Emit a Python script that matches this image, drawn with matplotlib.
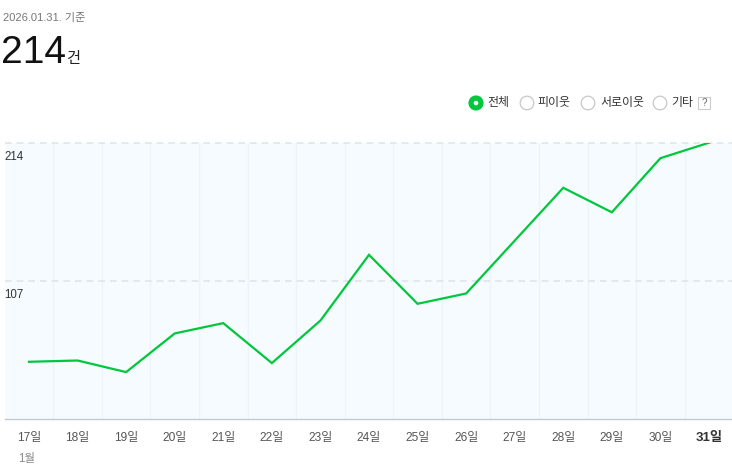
import matplotlib
matplotlib.use("Agg")
from matplotlib import pyplot as plt
from matplotlib.patches import Circle, Rectangle

plt.rcParams['font.family'] = ['Liberation Sans', 'Noto Sans CJK KR', 'DejaVu Sans']

# data
days = ["17일", "18일", "19일", "20일", "21일", "22일", "23일", "24일",
        "25일", "26일", "27일", "28일", "29일", "30일", "31일"]
counts = [44, 45, 36, 66, 74, 43, 76, 127, 89, 97, 138, 179, 160, 202, 214]
y_ticks = [107, 214]
legend_items = ["전체", "피이웃", "서로이웃", "기타"]
base_date = "2026.01.31. 기준"
total = "214"

W, H = 732, 470
fig = plt.figure(figsize=(W / 100, H / 100), dpi=100)

# main chart area
left, right, top, bottom = 4.7, 733.3, 142.7, 418.5
ax = fig.add_axes([left / W, (H - bottom) / H, (right - left) / W, (bottom - top) / H])
ax.set_facecolor("#f5fbff")
ax.set_xlim(-0.5, len(days) - 0.5)
ax.set_ylim(0, 214)

for i in range(len(days) - 1):
    ax.axvline(i + 0.5, color="#ebf4fc", lw=1, zorder=1)
for v in y_ticks:
    ax.axhline(v, color="#e1e5ea", lw=1.2, ls=(0, (4, 3)), zorder=2, clip_on=False)

ax.plot(range(len(days)), counts, color="#00c73c", lw=1.6, zorder=3,
        solid_joinstyle="miter")

for s in ["top", "left", "right"]:
    ax.spines[s].set_visible(False)
ax.spines["bottom"].set_color("#c5c9ce")
ax.spines["bottom"].set_linewidth(1)
ax.set_xticks([])
ax.set_yticks([])

# overlay in pixel coordinates for header / legend / labels
ov = fig.add_axes([0, 0, 1, 1])
ov.set_zorder(5)
ov.patch.set_alpha(0)
ov.set_xlim(0, W)
ov.set_ylim(H, 0)
ov.axis("off")

# y labels inside plot
for v in y_ticks:
    ov.text(4, bottom - (bottom - top) * v / 214 + 14.5, str(v), fontsize=8.3,
            color="#333333", va="center", ha="left")

# x labels
for i, d in enumerate(days):
    xp = left + (i + 0.5) * (right - left) / len(days)
    last = i == len(days) - 1
    ov.text(xp, 438, d, fontsize=9.5 if last else 8.6, ha="center", va="center",
            color="#333333" if last else "#555555",
            fontweight="bold" if last else "normal")
ov.text(18, 459, "1월", fontsize=8.3, color="#888888", ha="left", va="center")

# header
ov.text(3, 18, base_date, fontsize=8, color="#777777", ha="left", va="center")
ov.text(1, 63, total, fontsize=28, color="#111111", ha="left", va="baseline")
ov.text(66, 63, "건", fontsize=11, color="#222222", ha="left", va="baseline")

# legend (radio buttons)
cx = [476, 527, 588, 660]
tx = [487, 537, 600, 671]
ly = 103
for i, (c, t, lab) in enumerate(zip(cx, tx, legend_items)):
    if i == 0:
        ov.add_patch(Circle((c, ly), 7, facecolor="#00c73c", edgecolor="#00c73c", lw=0.8))
        ov.add_patch(Circle((c, ly), 2.3, facecolor="white", edgecolor="none"))
    else:
        ov.add_patch(Circle((c, ly), 6.8, facecolor="white", edgecolor="#c8c8c8", lw=0.9))
    ov.text(t, ly, lab, fontsize=8.6, color="#333333", ha="left", va="center")
ov.add_patch(Rectangle((698, 97), 12, 12, facecolor="white", edgecolor="#cccccc", lw=0.8))
ov.text(704, 103.5, "?", fontsize=7, color="#666666", ha="center", va="center")

fig.savefig("out.png", dpi=100)
